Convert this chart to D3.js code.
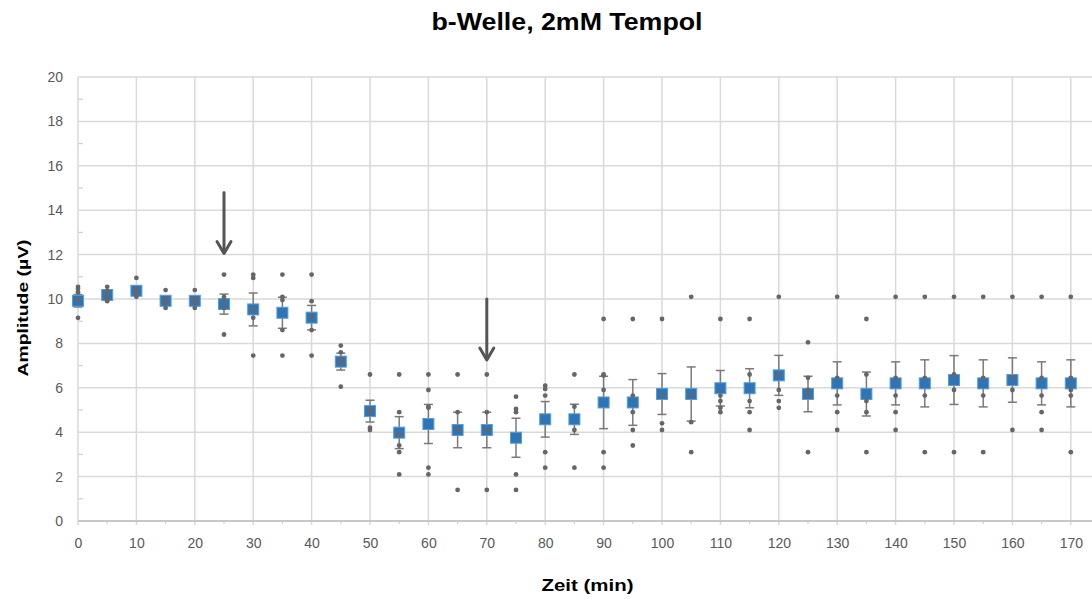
<!DOCTYPE html>
<html>
<head>
<meta charset="utf-8">
<script src="https://cdn.jsdelivr.net/npm/d3@7"></script>
<style>
  body { margin:0; background:#fff; }
  svg { font-family: "Liberation Sans", Arial, sans-serif; }
</style>
</head>
<body>
<svg id="chart" width="1092" height="599"></svg>
<script>
// time points (min)
var times = [0,5,10,15,20,25,30,35,40,45,50,55,60,65,70,75,80,85,90,95,100,105,110,115,120,125,130,135,140,145,150,155,160,165,170];
// mean amplitude (µV)
var means = [9.92,10.18,10.37,9.92,9.92,9.77,9.53,9.38,9.16,7.18,4.95,3.98,4.37,4.1,4.1,3.75,4.58,4.58,5.34,5.34,5.72,5.72,5.98,5.98,6.56,5.72,6.2,5.72,6.2,6.2,6.35,6.2,6.35,6.2,6.2];
// error (SEM)
var errors = [0.28,0.15,0.17,0.17,0.17,0.45,0.74,0.7,0.55,0.38,0.49,0.72,0.88,0.8,0.8,0.88,0.8,0.68,1.18,1.03,0.92,1.22,0.8,0.88,0.9,0.8,0.97,0.99,0.97,1.06,1.1,1.06,1.0,0.97,1.06];
// single measurements
var samples = [
  [10.55,10.45,10.3,9.95,9.15],
  [10.55,10.35,10.1,10.0,9.9],
  [10.95,10.45,10.3,10.1],
  [10.4,10.0,9.85,9.6],
  [10.4,10.0,9.85,9.6],
  [11.1,10.1,9.95,9.6,8.4],
  [11.1,10.95,9.55,9.15,7.45],
  [11.1,10.1,9.95,8.6,7.45],
  [11.1,9.9,9.2,8.6,7.45],
  [7.9,7.6,7.3,7.1,6.05],
  [6.6,5.0,4.9,4.2,4.1],
  [6.6,4.9,3.9,3.4,3.1,2.1],
  [6.6,5.9,5.15,5.1,2.4,2.1],
  [6.6,4.9,4.1,1.4],
  [6.6,4.9,4.1,1.4],
  [5.6,5.05,4.9,2.1,1.4],
  [6.1,5.95,5.65,3.1,2.4],
  [6.6,5.15,4.1,2.4],
  [9.1,6.6,6.55,5.9,3.1,2.4],
  [9.1,5.65,4.9,4.1,3.4],
  [9.1,5.65,4.4,4.1],
  [10.1,5.65,4.45,3.1],
  [9.1,5.65,5.4,5.1,4.9],
  [9.1,6.6,5.4,4.9,4.1],
  [10.1,6.6,5.9,5.4,5.1],
  [8.05,6.45,5.9,5.65,3.1],
  [10.1,6.45,5.65,4.9,4.1],
  [9.1,6.6,5.4,4.9,3.1],
  [10.1,6.45,5.65,4.9,4.1],
  [10.1,6.45,5.65,3.1],
  [10.1,6.6,5.9,3.1],
  [10.1,6.45,5.65,3.1],
  [10.1,6.45,5.9,4.1],
  [10.1,6.45,5.65,4.9,4.1],
  [10.1,6.45,5.9,5.65,3.1]
];
var xTicks = [0,10,20,30,40,50,60,70,80,90,100,110,120,130,140,150,160,170,180];
var xMinor = [5,15,25,35,45,55,65,75,85,95,105,115,125,135,145,155,165,175];
var yTicks = [0,2,4,6,8,10,12,14,16,18,20];
var yMinor = [1,3,5,7,9,11,13,15,17,19];
// arrows (application markers)
var arrowTimes = [25,70];
var arrowFrom = [14.8,10.0];
var arrowTo = [12.05,7.25];

var svg = d3.select("#chart");
var x = d3.scaleLinear().domain([0,175]).range([78,1100]);
var y = d3.scaleLinear().domain([0,20]).range([521,77]);
var right = 1092;

// grid
svg.append("g").selectAll("line").data(yTicks).enter().append("line")
  .attr("x1",x(0)).attr("x2",right).attr("y1",d=>y(d)).attr("y2",d=>y(d))
  .attr("stroke","#d9d9d9").attr("stroke-width",1.5);
svg.append("g").selectAll("line").data(xTicks).enter().append("line")
  .attr("x1",d=>x(d)).attr("x2",d=>x(d)).attr("y1",y(20)).attr("y2",y(0)+4)
  .attr("stroke","#d9d9d9").attr("stroke-width",1.5);

// minor ticks
svg.append("g").selectAll("line").data(yMinor).enter().append("line")
  .attr("x1",x(0)).attr("x2",x(0)+5).attr("y1",d=>y(d)).attr("y2",d=>y(d))
  .attr("stroke","#d0d0d0").attr("stroke-width",1.2);
svg.append("g").selectAll("line").data(xMinor).enter().append("line")
  .attr("x1",d=>x(d)).attr("x2",d=>x(d)).attr("y1",y(0)).attr("y2",y(0)+3)
  .attr("stroke","#d0d0d0").attr("stroke-width",1.2);

// bottom axis line
svg.append("line").attr("x1",x(0)).attr("x2",right).attr("y1",y(0)).attr("y2",y(0))
  .attr("stroke","#c8c8c8").attr("stroke-width",2);

// tick labels
var xAxis = d3.axisBottom(x).tickValues(xTicks.slice(0,18)).tickSize(0).tickPadding(17);
var gx = svg.append("g").attr("transform","translate(0,"+y(0)+")").call(xAxis);
gx.select(".domain").remove();
gx.selectAll("text").attr("fill","#595959").style("font-size","14px").style("font-family","'Liberation Sans', Arial, sans-serif");

var yAxis = d3.axisLeft(y).tickValues(yTicks).tickSize(0).tickPadding(15);
var gy = svg.append("g").attr("transform","translate("+x(0)+",0)").call(yAxis);
gy.select(".domain").remove();
gy.selectAll("text").attr("fill","#595959").style("font-size","14px").style("font-family","'Liberation Sans', Arial, sans-serif");

// error bars
var eb = svg.append("g").attr("stroke","#7a7a7a").attr("stroke-width",1.5);
times.forEach(function(t,i){
  var cx = x(t), y1 = y(means[i]+errors[i]), y2 = y(means[i]-errors[i]);
  eb.append("line").attr("x1",cx).attr("x2",cx).attr("y1",y1).attr("y2",y2);
  eb.append("line").attr("x1",cx-4.5).attr("x2",cx+4.5).attr("y1",y1).attr("y2",y1);
  eb.append("line").attr("x1",cx-4.5).attr("x2",cx+4.5).attr("y1",y2).attr("y2",y2);
});

// mean squares
svg.append("g").selectAll("rect").data(times).enter().append("rect")
  .attr("x",d=>x(d)-5.5).attr("y",(d,i)=>y(means[i])-5.5)
  .attr("width",11).attr("height",11)
  .attr("fill","#2e75b6").attr("stroke","#5b9bd5").attr("stroke-width",1);

// single values
var pts = [];
times.forEach(function(t,i){ samples[i].forEach(function(v){ pts.push([t,v]); }); });
svg.append("g").selectAll("circle").data(pts).enter().append("circle")
  .attr("cx",d=>x(d[0])).attr("cy",d=>y(d[1])).attr("r",2.4)
  .attr("fill","#666666");

// arrows
var ag = svg.append("g").attr("stroke","#555555").attr("stroke-width",3).attr("fill","none")
  .attr("stroke-linecap","round").attr("stroke-linejoin","round");
arrowTimes.forEach(function(t,i){
  var ax = x(t), top = y(arrowFrom[i]), tip = y(arrowTo[i]);
  ag.append("line").attr("x1",ax).attr("x2",ax).attr("y1",top).attr("y2",tip-1);
  ag.append("path").attr("d","M"+(ax-7)+","+(tip-12)+"L"+ax+","+tip+"L"+(ax+7)+","+(tip-12));
});

// titles
svg.append("text").attr("x",567).attr("y",29.5).attr("text-anchor","middle")
  .attr("textLength",271).attr("lengthAdjust","spacingAndGlyphs")
  .style("font-size","23px").style("font-weight","bold").attr("fill","#000")
  .text("b-Welle, 2mM Tempol");
svg.append("text").attr("x",587.5).attr("y",590.5).attr("text-anchor","middle")
  .attr("textLength",92).attr("lengthAdjust","spacingAndGlyphs")
  .style("font-size","17px").style("font-weight","bold").attr("fill","#000")
  .text("Zeit (min)");
svg.append("text").attr("transform","translate(27.5,308) rotate(-90)").attr("text-anchor","middle")
  .attr("textLength",137).attr("lengthAdjust","spacingAndGlyphs")
  .style("font-size","15px").style("font-weight","bold").attr("fill","#000")
  .text("Amplitude (µV)");
</script>
</body>
</html>
